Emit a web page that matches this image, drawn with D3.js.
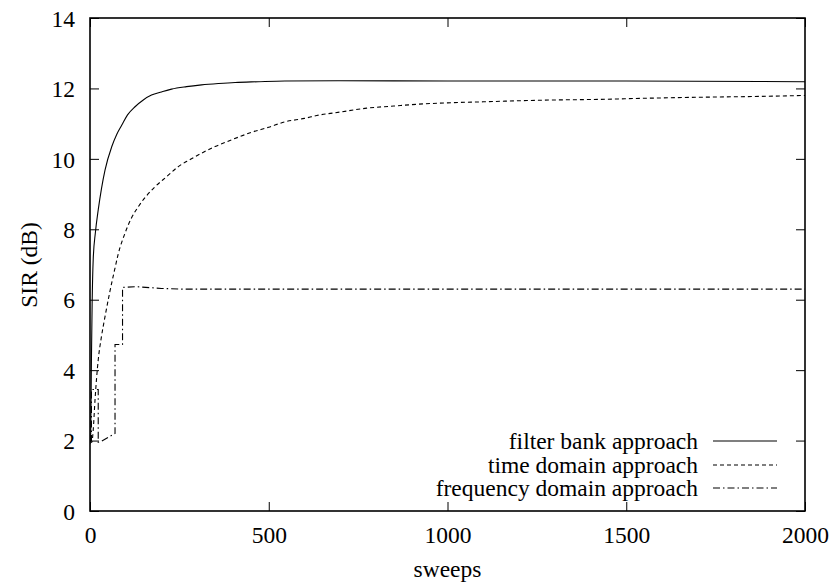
<!DOCTYPE html>
<html>
<head>
<meta charset="utf-8">
<script src="https://cdn.jsdelivr.net/npm/d3@7/dist/d3.min.js"></script>
<style>
  html, body { margin: 0; padding: 0; background: #fff; }
  svg { display: block; }
  text { font-family: "Liberation Serif", "DejaVu Serif", serif; fill: #000; }
</style>
</head>
<body>
<svg id="chart" width="833" height="588"></svg>
<script>
const xTicks = [0, 500, 1000, 1500, 2000];
const yTicks = [0, 2, 4, 6, 8, 10, 12, 14];
const seriesNames = ["filter bank approach", "time domain approach", "frequency domain approach"];

const filterBank = [
  [0, 1.9], [2, 2.2], [4, 4.3], [6, 5.9], [9, 7.15], [15, 7.9], [23, 8.55], [32, 9.15], [42, 9.68],
  [61, 10.35], [75, 10.7], [89, 10.96], [105, 11.25], [126, 11.48], [150, 11.68], [172, 11.81],
  [200, 11.9], [228, 11.98], [270, 12.05], [312, 12.1], [360, 12.14], [406, 12.17], [470, 12.19],
  [545, 12.21], [700, 12.22], [1000, 12.21], [1500, 12.21], [2000, 12.19]
];
const timeDomain = [
  [0, 2.0], [5, 1.95], [9, 2.3], [14, 3.15], [23, 4.29], [32, 4.95], [42, 5.52], [55, 6.2],
  [70, 6.9], [79, 7.3], [98, 7.89], [115, 8.3], [135, 8.64], [158, 8.95], [182, 9.21], [215, 9.5],
  [247, 9.78], [280, 9.98], [312, 10.16], [350, 10.35], [396, 10.54], [448, 10.74], [500, 10.9],
  [545, 11.05], [600, 11.15], [634, 11.23], [700, 11.33], [774, 11.44], [850, 11.5], [914, 11.55],
  [1000, 11.59], [1100, 11.62], [1200, 11.65], [1287, 11.67], [1427, 11.69], [1550, 11.72],
  [1706, 11.75], [1850, 11.77], [2000, 11.8]
];
const freqDomain = [
  [0, 2.0], [4, 2.0], [4, 3.45], [23, 3.45], [23, 1.95], [32, 1.98], [70, 2.2], [70, 4.73],
  [91, 4.73], [91, 6.35], [130, 6.37], [200, 6.32], [260, 6.3], [2000, 6.3]
];

const svg = d3.select("#chart");
const pLeft = 90, pRight = 805, pTop = 18, pBottom = 511;
const x = d3.scaleLinear().domain([0, 2000]).range([pLeft, pRight]);
const y = d3.scaleLinear().domain([0, 14]).range([pBottom, pTop]);
const fs = 23.5;
const FONT = '"Liberation Serif", "DejaVu Serif", serif';

// axes (inward ticks, mirrored)
const tickLen = 9;
const fmt = d3.format("d");
const axB = svg.append("g").attr("transform", `translate(0,${pBottom})`)
  .call(d3.axisBottom(x).tickValues(xTicks).tickFormat(fmt).tickSizeInner(-tickLen).tickSizeOuter(0).tickPadding(15));
const axT = svg.append("g").attr("transform", `translate(0,${pTop})`)
  .call(d3.axisTop(x).tickValues(xTicks).tickSizeInner(-tickLen).tickSizeOuter(0).tickFormat(""));
const axL = svg.append("g").attr("transform", `translate(${pLeft},0)`)
  .call(d3.axisLeft(y).tickValues(yTicks).tickFormat(fmt).tickSizeInner(-tickLen).tickSizeOuter(0).tickPadding(15));
const axR = svg.append("g").attr("transform", `translate(${pRight},0)`)
  .call(d3.axisRight(y).tickValues(yTicks).tickSizeInner(-tickLen).tickSizeOuter(0).tickFormat(""));
[axB, axT, axL, axR].forEach(a => {
  a.attr("font-family", FONT);
  a.select(".domain").remove();
  a.selectAll("line").attr("stroke", "#000").attr("stroke-width", 1);
  a.selectAll("text").style("font-family", FONT).style("font-size", fs + "px").attr("fill", "#000");
});
axB.selectAll("text").attr("dy", "0.71em");
axL.selectAll("text").attr("dy", "0.35em");

// border
svg.append("rect").attr("x", pLeft).attr("y", pTop).attr("width", pRight - pLeft).attr("height", pBottom - pTop)
  .attr("fill", "none").attr("stroke", "#000").attr("stroke-width", 1.6);

// clip
svg.append("clipPath").attr("id", "clip").append("rect")
  .attr("x", pLeft).attr("y", pTop).attr("width", pRight - pLeft).attr("height", pBottom - pTop);

const line = d3.line().x(d => x(d[0])).y(d => y(d[1]));
const styles = [
  { data: filterBank, dash: null, curve: d3.curveMonotoneX },
  { data: timeDomain, dash: "4,3", curve: d3.curveMonotoneX },
  { data: freqDomain, dash: "7,3,1.5,3", curve: d3.curveLinear }
];
const g = svg.append("g").attr("clip-path", "url(#clip)");
styles.forEach(s => {
  g.append("path").attr("d", line.curve(s.curve)(s.data))
    .attr("fill", "none").attr("stroke", "#000").attr("stroke-width", 1.1)
    .attr("stroke-dasharray", s.dash);
});

// legend
const legY = [441, 465, 488];
seriesNames.forEach((n, i) => {
  svg.append("text").attr("x", 698).attr("y", legY[i]).attr("dy", "0.33em")
    .attr("text-anchor", "end").style("font-family", FONT).style("font-size", fs + "px").text(n);
  svg.append("line").attr("x1", 713).attr("x2", 777).attr("y1", legY[i]).attr("y2", legY[i])
    .attr("stroke", "#000").attr("stroke-width", 1.1).attr("stroke-dasharray", styles[i].dash);
});

// axis titles
svg.append("text").attr("x", (pLeft + pRight) / 2).attr("y", 577).attr("text-anchor", "middle")
  .style("font-family", FONT).style("font-size", fs + "px").text("sweeps");
svg.append("text").attr("transform", `translate(37,265) rotate(-90)`).attr("text-anchor", "middle")
  .style("font-family", FONT).style("font-size", fs + "px").text("SIR (dB)");
</script>
</body>
</html>
